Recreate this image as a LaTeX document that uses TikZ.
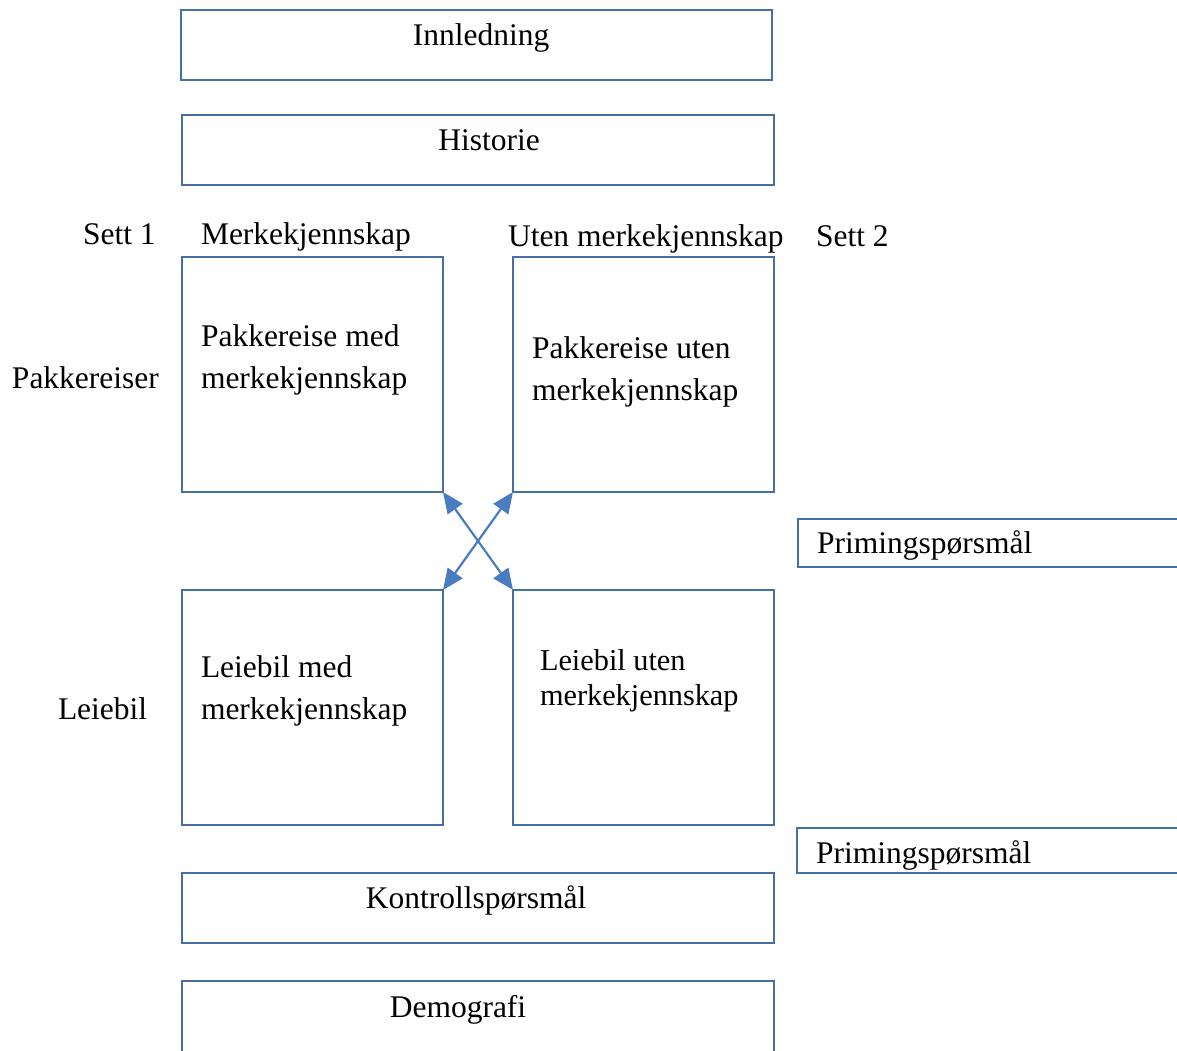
\documentclass[tikz,border=0pt]{standalone}
\usepackage{fontspec}
\setmainfont{Liberation Serif}
\usetikzlibrary{arrows.meta}
\definecolor{boxblue}{RGB}{68,112,165}
\definecolor{arrblue}{RGB}{74,124,192}
\tikzset{
  box/.style={draw=boxblue, line width=1.6pt, rectangle, inner sep=0pt, outer sep=0pt, anchor=north west},
  txt/.style={inner sep=0pt, outer sep=0pt, font=\fontsize{31.5}{37}\selectfont},
  txts/.style={inner sep=0pt, outer sep=0pt, font=\fontsize{30.3}{33}\selectfont},
  dblarr/.style={draw=arrblue, line width=2.2pt, {Triangle[length=21pt,width=18pt]}-{Triangle[length=21pt,width=18pt]}}
}
\begin{document}
\begin{tikzpicture}[x=1pt,y=-1pt]
\useasboundingbox (0,0) rectangle (1177,1050);
\clip (0,0) rectangle (1177,1050);
\fill[white] (0,0) rectangle (1177,1050);

% top boxes
\node[box, minimum width=591pt, minimum height=70pt] (inn) at (181,10) {};
\node[txt, anchor=base] (inntxt) at (481,45) {Innledning};
\node[box, minimum width=592pt, minimum height=70pt] (his) at (182,115) {};
\node[txt, anchor=base] (histxt) at (489,150) {Historie};

% column / row headings
\node[txt, anchor=base west] (sett1) at (83,244) {Sett 1};
\node[txt, anchor=base west] (merk) at (201,244) {Merkekjennskap};
\node[txt, anchor=base west] (uten) at (508,246) {Uten merkekjennskap};
\node[txt, anchor=base west] (sett2) at (816,246) {Sett 2};
\node[txt, anchor=base west] (pakk) at (12,388) {Pakkereiser};
\node[txt, anchor=base west] (leie) at (58,719) {Leiebil};

% grid boxes
\node[box, minimum width=261pt, minimum height=235pt] (pm) at (182,257) {};
\node[txt, anchor=base west] (pm1) at (201,346) {Pakkereise med};
\node[txt, anchor=base west] (pm2) at (201,388) {merkekjennskap};

\node[box, minimum width=261pt, minimum height=235pt] (pu) at (513,257) {};
\node[txt, anchor=base west] (pu1) at (532,358) {Pakkereise uten};
\node[txt, anchor=base west] (pu2) at (532,400) {merkekjennskap};

\node[box, minimum width=261pt, minimum height=235pt] (lm) at (182,590) {};
\node[txt, anchor=base west] (lm1) at (201,677) {Leiebil med};
\node[txt, anchor=base west] (lm2) at (201,719) {merkekjennskap};

\node[box, minimum width=261pt, minimum height=235pt] (lu) at (513,590) {};
\node[txts, anchor=base west] (lu1) at (540,670) {Leiebil uten};
\node[txts, anchor=base west] (lu2) at (540,705) {merkekjennskap};

% arrows
\draw[dblarr] (pm.south east) -- (lu.north west);
\draw[dblarr] (pu.south west) -- (lm.north east);

% priming boxes
\node[box, minimum width=420pt, minimum height=48pt] (pr1) at (798,519) {};
\node[txt, anchor=base west] (pr1t) at (817,553) {Primingspørsmål};
\node[box, minimum width=420pt, minimum height=45pt] (pr2) at (797,828) {};
\node[txt, anchor=base west] (pr2t) at (816,863) {Primingspørsmål};

% bottom boxes
\node[box, minimum width=592pt, minimum height=70pt] (kon) at (182,873) {};
\node[txt, anchor=base] (kontxt) at (476,908) {Kontrollspørsmål};
\node[box, minimum width=592pt, minimum height=90pt] (dem) at (182,981) {};
\node[txt, anchor=base] (demtxt) at (458,1017) {Demografi};
\end{tikzpicture}
\end{document}
